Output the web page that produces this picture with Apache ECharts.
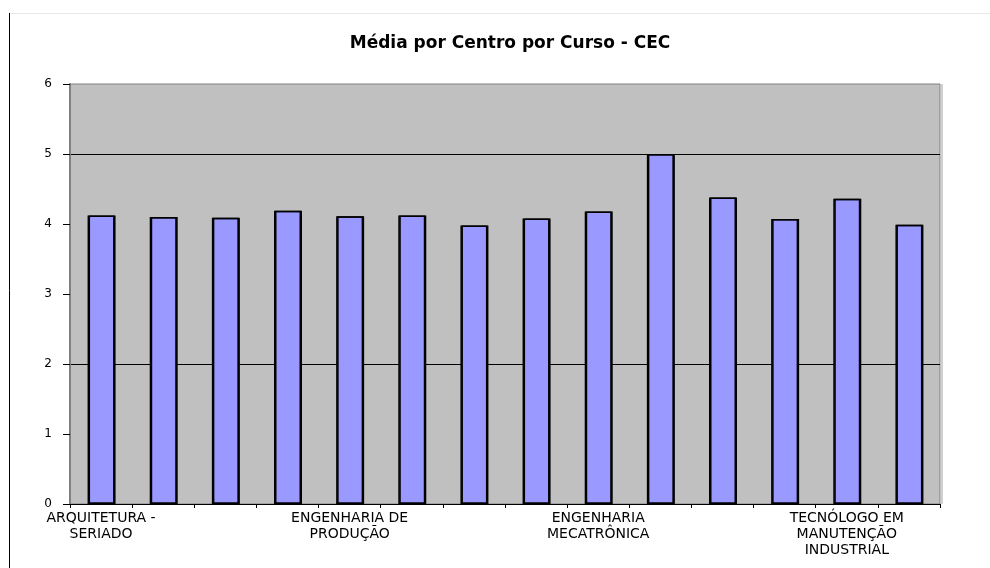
<!DOCTYPE html>
<html>
<head>
<meta charset="utf-8">
<script src="https://cdn.jsdelivr.net/npm/echarts@6/dist/echarts.min.js"></script>
<style>
  html, body { margin: 0; padding: 0; background: #fff; }
  #chart { width: 990px; height: 568px; }
</style>
</head>
<body>
<div id="chart"></div>
<script>
// cursos (so um rotulo a cada 4 aparece no eixo)
const cursos = [
  'ARQUITETURA -\nSERIADO', '', '', '',
  'ENGENHARIA DE\nPRODUÇÃO', '', '', '',
  'ENGENHARIA\nMECATRÔNICA', '', '', '',
  'TECNÓLOGO EM\nMANUTENÇÃO\nINDUSTRIAL', ''
];
// media por curso
const medias = [4.12, 4.10, 4.09, 4.19, 4.11, 4.12, 3.98, 4.08, 4.18, 5.00, 4.38, 4.07, 4.36, 3.99];
const yTicks = [0, 1, 2, 3, 4, 5, 6];

const chart = echarts.init(document.getElementById('chart'), null, { renderer: 'canvas' });

const option = {
  animation: false,
  backgroundColor: '#fff',
  title: {
    text: 'Média por Centro por Curso - CEC',
    left: 505,
    top: 30,
    textAlign: 'center',
    textStyle: {
      fontFamily: 'DejaVu Sans',
      fontSize: 17,
      fontWeight: 'bold',
      color: '#000'
    }
  },
  grid: {
    left: 70,
    right: 50,
    top: 84,
    bottom: 64,
    show: true,
    backgroundColor: '#c0c0c0',
    borderColor: '#808080',
    borderWidth: 1
  },
  xAxis: {
    type: 'category',
    data: cursos,
    axisLine: { lineStyle: { color: '#000', width: 1 } },
    axisTick: { show: true, length: 4, interval: 0, lineStyle: { color: '#000' } },
    axisLabel: {
      interval: 3,
      margin: 6,
      fontFamily: 'DejaVu Sans',
      fontSize: 14,
      lineHeight: 16,
      color: '#000'
    }
  },
  yAxis: {
    type: 'value',
    min: yTicks[0],
    max: yTicks[yTicks.length - 1],
    interval: 1,
    axisLine: { show: true, lineStyle: { color: '#808080', width: 2 } },
    axisTick: { show: true, length: 7, lineStyle: { color: '#000' } },
    axisLabel: {
      margin: 18,
      fontFamily: 'DejaVu Sans',
      fontSize: 12,
      color: '#000'
    },
    splitLine: {
      show: true,
      lineStyle: {
        color: ['transparent', 'transparent', '#000', 'transparent', 'transparent', '#000', 'transparent'],
        width: 1
      }
    }
  },
  series: [{
    type: 'bar',
    data: medias,
    barWidth: 27,
    itemStyle: {
      color: '#9999ff',
      borderColor: '#000',
      borderWidth: 1.5,
      shadowColor: '#000',
      shadowOffsetX: 1,
      shadowBlur: 0
    }
  }],
  graphic: [
    {
      type: 'line',
      shape: { x1: 9.5, y1: 13, x2: 9.5, y2: 568 },
      style: { stroke: '#000', lineWidth: 1 }
    },
    {
      type: 'line',
      shape: { x1: 10, y1: 13.5, x2: 990, y2: 13.5 },
      style: { stroke: '#e8e8e8', lineWidth: 1 }
    },
    {
      type: 'line',
      shape: { x1: 942, y1: 84, x2: 942, y2: 504 },
      style: { stroke: '#a0a0a0', lineWidth: 1 }
    }
  ]
};

chart.setOption(option);
</script>
</body>
</html>
